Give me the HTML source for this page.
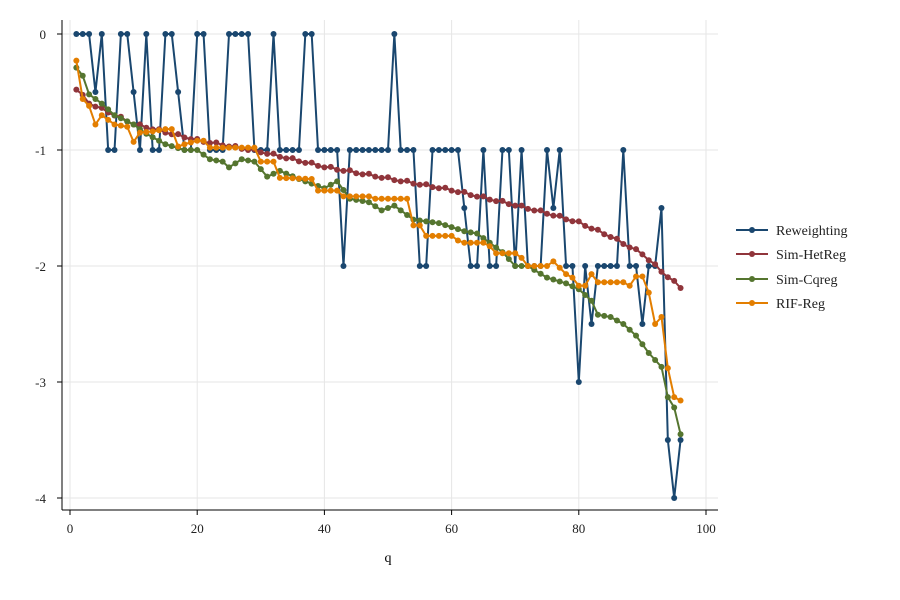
<!DOCTYPE html><html><head><meta charset="utf-8"><style>body{margin:0;background:#fff}svg{display:block;font-family:"Liberation Serif",serif}</style></head><body>
<svg id="s" width="900" height="600" xmlns="http://www.w3.org/2000/svg">
<rect width="900" height="600" fill="#fff"/>
<g id="grid" stroke="#e6e6e6" stroke-width="1"></g>
<line x1="62" y1="510" x2="718" y2="510" stroke="#000" stroke-width="1"/>
<line x1="62" y1="20" x2="62" y2="510" stroke="#000" stroke-width="1"/>
<g id="ticks" font-size="13" fill="#222"></g>
<text x="388" y="562" font-size="14" text-anchor="middle">q</text>
<g id="series"></g>
<g font-size="14" fill="#222">
<line x1="736" y1="230" x2="768" y2="230" stroke="#1a476f" stroke-width="2"/><circle cx="752" cy="230" r="3" fill="#1a476f"/><text x="776" y="235">Reweighting</text>
<line x1="736" y1="254" x2="768" y2="254" stroke="#90353b" stroke-width="2"/><circle cx="752" cy="254" r="3" fill="#90353b"/><text x="776" y="259">Sim-HetReg</text>
<line x1="736" y1="279" x2="768" y2="279" stroke="#55752f" stroke-width="2"/><circle cx="752" cy="279" r="3" fill="#55752f"/><text x="776" y="284">Sim-Cqreg</text>
<line x1="736" y1="303" x2="768" y2="303" stroke="#e37e00" stroke-width="2"/><circle cx="752" cy="303" r="3" fill="#e37e00"/><text x="776" y="308">RIF-Reg</text>
</g>
</svg>
<script>
const NS="http://www.w3.org/2000/svg";
const X=q=>70+6.36*q, Y=v=>34-116*v;
function el(p,t,a){const e=document.createElementNS(NS,t);for(const k in a)e.setAttribute(k,a[k]);p.appendChild(e);return e;}
const g=document.getElementById('grid'),tk=document.getElementById('ticks');
for(let i=0;i<=100;i+=20){el(g,'line',{x1:X(i),x2:X(i),y1:20,y2:510});el(tk,'line',{x1:X(i),x2:X(i),y1:510,y2:515,stroke:'#000'});const t=el(tk,'text',{x:X(i),y:533,'text-anchor':'middle'});t.textContent=i;}
for(let v=0;v>=-4;v--){el(g,'line',{x1:62,x2:718,y1:Y(v),y2:Y(v)});el(tk,'line',{x1:57,x2:62,y1:Y(v),y2:Y(v),stroke:'#000'});const t=el(tk,'text',{x:46,y:Y(v)+5,'text-anchor':'end'});t.textContent=v;}
function interp(k){const o=[];for(let q=1;q<=96;q++){let i=0;while(i<k.length-1&&k[i+1][0]<q)i++;const a=k[i],b=k[Math.min(i+1,k.length-1)];if(q<=a[0]){o.push(a[1]);continue;}o.push(a[1]+(b[1]-a[1])*(q-a[0])/(b[0]-a[0]));}return o;}
const rw=[0,0,0,-.5,0,-1,-1,0,0,-.5,-1,0,-1,-1,0,0,-.5,-1,-1,0,0,-1,-1,-1,0,0,0,0,-1,-1,-1,0,-1,-1,-1,-1,0,0,-1,-1,-1,-1,-2,-1,-1,-1,-1,-1,-1,-1,0,-1,-1,-1,-2,-2,-1,-1,-1,-1,-1,-1.5,-2,-2,-1,-2,-2,-1,-1,-2,-1,-2,-2,-2,-1,-1.5,-1,-2,-2,-3,-2,-2.5,-2,-2,-2,-2,-1,-2,-2,-2.5,-2,-2,-1.5,-3.5,-4,-3.5];
const het=interp([[1,-.48],[3,-.6],[10,-.78],[20,-.92],[30,-1.02],[40,-1.15],[50,-1.25],[60,-1.35],[70,-1.48],[75,-1.55],[80,-1.63],[85,-1.75],[90,-1.9],[93,-2.05],[96,-2.19]]).map((v,i)=>v+(i%3==1?.015:0));
const cq=interp([[1,-.29],[2,-.36],[3,-.52],[5,-.6],[7,-.7],[10,-.78],[12,-.86],[15,-.95],[18,-1],[20,-1],[22,-1.08],[24,-1.1],[25,-1.15],[27,-1.08],[29,-1.1],[31,-1.23],[33,-1.18],[36,-1.25],[40,-1.33],[42,-1.27],[44,-1.42],[47,-1.45],[49,-1.52],[51,-1.48],[54,-1.6],[58,-1.63],[62,-1.7],[64,-1.72],[68,-1.88],[70,-2],[72,-2],[75,-2.1],[78,-2.15],[80,-2.2],[82,-2.3],[83,-2.42],[85,-2.44],[87,-2.5],[89,-2.6],[91,-2.75],[93,-2.87],[94,-3.13],[95,-3.22],[96,-3.45]]);
const rif=interp([[1,-.23],[2,-.56],[3,-.62],[4,-.78],[5,-.7],[7,-.78],[9,-.8],[10,-.93],[11,-.85],[13,-.84],[15,-.82],[16,-.82],[17,-.97],[18,-.95],[20,-.92],[21,-.92],[22,-.98],[29,-.98],[30,-1.1],[32,-1.1],[33,-1.24],[38,-1.25],[39,-1.35],[42,-1.35],[43,-1.4],[47,-1.4],[48,-1.42],[53,-1.42],[54,-1.65],[55,-1.65],[56,-1.74],[60,-1.74],[61,-1.78],[62,-1.8],[65,-1.8],[66,-1.83],[67,-1.89],[70,-1.89],[71,-1.93],[72,-2],[75,-2],[76,-1.96],[78,-2.07],[79,-2.1],[80,-2.17],[81,-2.17],[82,-2.07],[83,-2.14],[87,-2.14],[88,-2.17],[89,-2.09],[90,-2.09],[91,-2.23],[92,-2.5],[93,-2.44],[94,-2.88],[95,-3.13],[96,-3.16]]);
const S=document.getElementById('series');
[[rw,'#1a476f'],[het,'#90353b'],[cq,'#55752f'],[rif,'#e37e00']].forEach(([d,c])=>{
el(S,'polyline',{points:d.map((v,i)=>X(i+1)+','+Y(v)).join(' '),fill:'none',stroke:c,'stroke-width':2,'stroke-linejoin':'round'});
d.forEach((v,i)=>el(S,'circle',{cx:X(i+1),cy:Y(v),r:3,fill:c}));});
</script>
</body></html>
